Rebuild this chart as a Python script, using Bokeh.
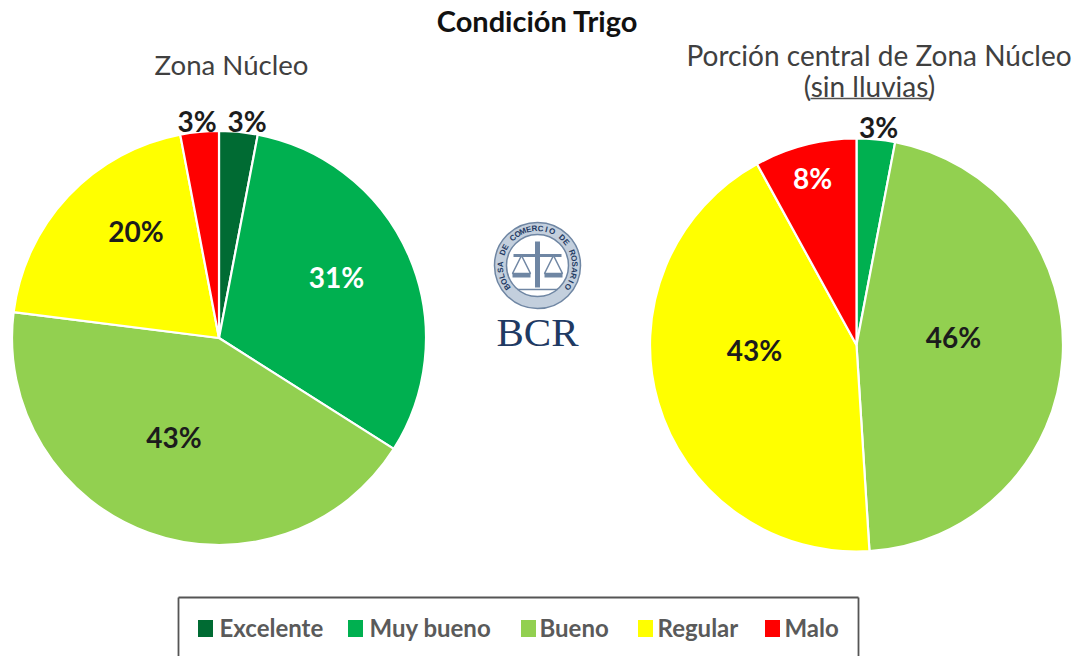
import math
from bokeh.plotting import figure
from bokeh.embed import file_html
from bokeh.resources import INLINE
from bokeh.core.properties import value
from bokeh.models import Range1d

categories = ["Excelente", "Muy bueno", "Bueno", "Regular", "Malo"]
colors = ["#006b33", "#00b050", "#92d050", "#ffff00", "#ff0000"]
left_values = [3, 31, 43, 20, 3]
right_values = [0, 3, 46, 43, 8]
left_labels = ["3%", "31%", "43%", "20%", "3%"]
right_labels = ["", "3%", "46%", "43%", "8%"]
title = "Condición Trigo"
left_title = "Zona Núcleo"
right_title = ["Porción central de Zona Núcleo", "(sin lluvias)"]

FONT = value("Lato")
H = 656


def Y(v):
    return H - v


p = figure(width=1079, height=656, output_backend="svg", toolbar_location=None,
           x_range=Range1d(0, 1079), y_range=Range1d(0, 656),
           min_border=0, outline_line_color=None)
p.axis.visible = False
p.grid.visible = False
p.background_fill_color = "white"
p.border_fill_color = "white"


def pie(cx, cy, r, vals, labels, lab_pos, lab_col):
    total = sum(vals)
    cum = 0.0
    for v, c in zip(vals, colors):
        if v > 0:
            # clockwise from 12 o'clock
            a0 = math.pi / 2 - 2 * math.pi * (cum + v) / total
            a1 = math.pi / 2 - 2 * math.pi * cum / total
            p.wedge([cx], [Y(cy)], radius=r, start_angle=a0, end_angle=a1,
                    fill_color=c, line_color="white", line_width=2.2)
        cum += v
    for t, (x, y), col in zip(labels, lab_pos, lab_col):
        if t:
            p.text([x], [Y(y)], text=[t], text_font=FONT, text_font_style="bold",
                   text_font_size="28px", text_color=col,
                   text_align="center", text_baseline="middle")


dark = "#1c1c1c"
pie(218.5, 337.5, 207, left_values, left_labels,
    [(246.5, 120), (336, 276), (173.5, 436), (135.5, 230), (196.5, 120)],
    [dark, "white", dark, dark, dark])
pie(856, 344.5, 206.5, right_values, right_labels,
    [(0, 0), (878, 126), (953, 336), (754, 349), (812, 177)],
    [dark, dark, dark, dark, "white"])

# titles
p.text([537], [Y(20)], text=[title], text_font=FONT, text_font_style="bold",
       text_font_size="29px", text_color="#111111", text_align="center", text_baseline="middle")
p.text([231], [Y(64)], text=[left_title], text_font=FONT, text_font_size="27.6px",
       text_color="#404040", text_align="center", text_baseline="middle")
p.text([878.5], [Y(54)], text=[right_title[0]], text_font=FONT, text_font_size="28px",
       text_color="#404040", text_align="center", text_baseline="middle")
p.text([869], [Y(85)], text=[right_title[1]], text_font=FONT, text_font_size="28px",
       text_color="#404040", text_align="center", text_baseline="middle")
p.segment([810], [Y(98)], [930], [Y(98)], line_color="#505050", line_width=1.6)

# logo
navy = "#1f3a63"
steel = "#6f86a3"
lx, ly = 537, 265
p.circle([lx], [Y(ly)], radius=43, fill_color="#c3cfdd", line_color=steel, line_width=1.5)
p.circle([lx], [Y(ly)], radius=31, fill_color="white", line_color=steel, line_width=1.5)
ring = "BOLSA DE COMERCIO DE ROSARIO"
n = len(ring)
for i, ch in enumerate(ring):
    ang = math.radians(215 - 250 * i / (n - 1))
    p.text([lx + 37 * math.cos(ang)], [Y(ly) + 37 * math.sin(ang)], text=[ch],
           angle=[ang - math.pi / 2], text_font=value("Liberation Sans"),
           text_font_size="8px", text_font_style="bold", text_color=navy,
           text_align="center", text_baseline="middle")
# emblem
p.segment([lx - 24], [Y(ly - 10)], [lx + 24], [Y(ly - 10)], line_color=steel, line_width=3)
p.segment([lx], [Y(ly - 24)], [lx], [Y(ly + 22)], line_color=steel, line_width=5)
for sx in (-16, 16):
    p.patch([lx + sx - 9, lx + sx, lx + sx + 9], [Y(ly + 8), Y(ly - 10), Y(ly + 8)],
            fill_color="white", line_color=steel, line_width=1.5)
    p.quad(left=[lx + sx - 9], right=[lx + sx + 9], top=[Y(ly + 8)], bottom=[Y(ly + 12)],
           fill_color=steel, line_color=None)
p.segment([lx - 20], [Y(ly + 24)], [lx + 20], [Y(ly + 24)], line_color=steel, line_width=1.5)
p.text([lx], [Y(331)], text=["BCR"], text_font=value("Liberation Serif"),
       text_font_size="41px", text_color=navy, text_align="center", text_baseline="middle")

# legend
p.segment([178, 178, 858], [Y(660), Y(597), Y(597)], [178, 858, 858],
          [Y(597), Y(597), Y(660)], line_color="#555555", line_width=1.8)
leg_x = [205, 355, 528, 645, 772]
leg_tx = [219, 369, 539, 657, 784]
for c, x, tx, name in zip(colors, leg_x, leg_tx, categories):
    p.rect([x], [Y(628)], width=15, height=17, fill_color=c, line_color=None)
    p.text([tx], [Y(627)], text=[name], text_font=FONT, text_font_style="bold",
           text_font_size="24px", text_color="#5a5a5a", text_align="left", text_baseline="middle")

open("out.html", "w").write(file_html(p, INLINE))
